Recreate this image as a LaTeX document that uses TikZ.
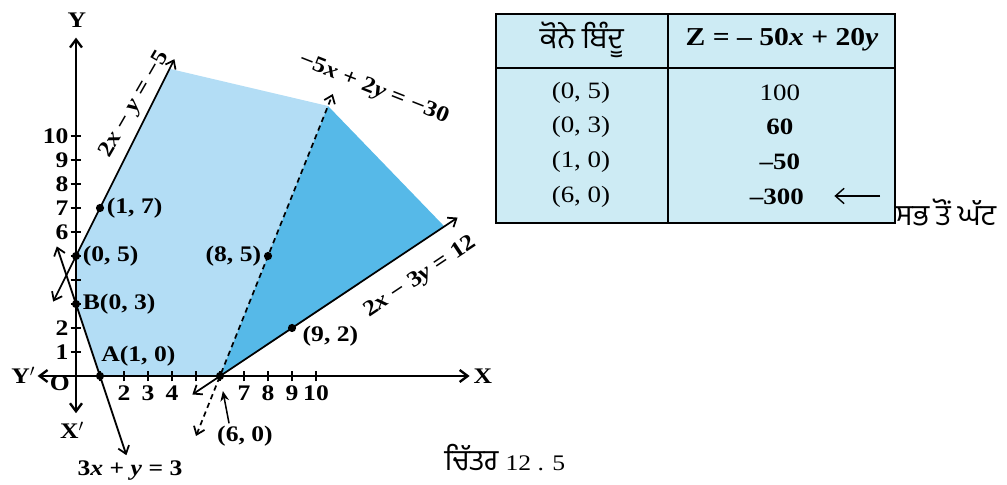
\documentclass[tikz,border=0pt]{standalone}
\usepackage{fontspec}
\setmainfont{Liberation Serif}[FakeStretch=1.15]
\newfontfamily\gurfont[Script=Gurmukhi]{Hind Jalandhar}
\usepackage{tikz}
\usetikzlibrary{arrows.meta, positioning, calc}
\definecolor{regionlight}{HTML}{B3DDF5}
\definecolor{regiondark}{HTML}{56B9E8}
\definecolor{tablefill}{HTML}{CDEBF4}
\newcommand{\vx}{\textit{x}}
\newcommand{\vy}{\textit{y}}

\begin{document}
\begin{tikzpicture}[x=0.72cm, y=0.72cm,
  barb/.tip={Straight Barb[length=2.2mm, width=3.4mm]},
  axis/.style={line width=2pt, {Straight Barb[length=2.4mm, width=3.6mm]}-{Straight Barb[length=2.4mm, width=3.6mm]}},
  cline/.style={line width=1.5pt, barb-barb},
  dline/.style={line width=1.5pt, dash pattern=on 1.6mm off 1.2mm, barb-barb},
  dot/.style={circle, fill=black, inner sep=0pt, minimum size=7pt},
  lbl/.style={font=\fontsize{19}{22}\selectfont\bfseries, inner sep=1pt},
  tbl/.style={font=\fontsize{20}{23}\selectfont, inner sep=1pt},
  tblb/.style={font=\fontsize{20}{23}\selectfont\bfseries, inner sep=1pt},
  gur/.style={font=\fontsize{25}{28}\selectfont\gurfont, inner sep=1pt}]
  \useasboundingbox (-3.1667,-4.5417) rectangle (38.7917,15.6667);

  % Regions
  \fill[regionlight] (0,3) -- (0,5) -- (3.9,12.8) -- (10.5,11.25) -- (6,0) -- (1,0) -- cycle;
  \fill[regiondark] (6,0) -- (10.5,11.25) -- (15.35,6.23) -- cycle;

  % Axes
  \draw[axis] (-1.6,0) -- (16.4,0);
  \draw[axis] (0,-1.55) -- (0,14.1);
  \foreach \i in {1,...,10} {
    \draw[line width=1.2pt] (\i,-0.22) -- (\i,0.22);
    \draw[line width=1.2pt] (-0.22,\i) -- (0.22,\i);
  }
  \foreach \i in {2,3,4,7,8,9,10}
    \node[lbl] (xt\i) at (\i,-0.7) {\i};
  \foreach \i in {1,2,6,7,8,9,10}
    \node[lbl, anchor=east] (yt\i) at (-0.26,\i) {\i};
  \node[lbl] (lY) at (0.04,14.83) {Y};
  \node[lbl] (lX) at (16.95,0) {X};
  \node[lbl] (lYp) at (-2.2,0.04) {Y$'$};
  \node[lbl] (lXp) at (-0.17,-2.25) {X$'$};
  \node[lbl] (lO) at (-0.67,-0.32) {O};

  % Droites
  \draw[cline] (-0.95,3.1) -- (4.1,13.2);
  \draw[cline] (-0.8,5.4) -- (2.1,-3.3);
  \draw[cline] (4.85,-0.77) -- (15.9,6.6);
  \draw[dline] (5,-2.5) -- (10.7,11.75);
  \node[lbl, rotate=60] (eqA) at (2.45,11.3) {2\vx\ − \vy\ = −5};
  \node[lbl, rotate=-21.5] (eqB) at (12.4,11.95) {−5\vx\ + 2\vy\ = −30};
  \node[lbl, rotate=33.7] (eqC) at (14.35,4.1) {2\vx\ − 3\vy\ = 12};
  \node[lbl] (eqD) at (2.25,-3.92) {3\vx\ + \vy\ = 3};

  % Sommets
  \node[dot] (p17) at (1,7) {};
  \node[dot] (p05) at (0,5) {};
  \node[dot] (p03) at (0,3) {};
  \node[dot] (p10) at (1,0) {};
  \node[dot] (p60) at (6,0) {};
  \node[dot] (p85) at (8,5) {};
  \node[dot] (p92) at (9,2) {};
  \node[lbl, right=1pt of p17] (l17) {(1, 7)};
  \node[lbl, right=1pt of p05] (l05) {(0, 5)};
  \node[lbl, right=1pt of p03] (l03) {B(0, 3)};
  \node[lbl] (l10) at (2.6,0.82) {A(1, 0)};
  \node[lbl, left=1pt of p85] (l85) {(8, 5)};
  \node[lbl] (l92) at (10.6,1.68) {(9, 2)};
  \node[lbl] (l60) at (7.04,-2.5) {(6, 0)};
  \draw[line width=1.3pt, -{Stealth[length=3mm, width=2.6mm]}, shorten >=3.3mm]
    ([shift={(0.55,0.05)}]l60.north west) -- (p60);

  % Tableau
  \draw[line width=2.2pt, fill=tablefill] (17.5,6.375) rectangle (34.125,15.083);
  \draw[line width=2.2pt] (24.667,6.375) -- (24.667,15.083);
  \draw[line width=2.2pt] (17.5,12.833) -- (34.125,12.833);
  \node[gur] (hP) at (21.08,14.0) {ਕੋਨੇ ਬਿੰਦੂ};
  \node[tblb, font=\fontsize{22}{25}\selectfont\bfseries] (hZ) at (29.42,14.0) {Z = – 50\vx\ + 20\vy};
  \node[tbl] (c1) at (21.04,11.79) {(0, 5)};
  \node[tbl] (c2) at (21.04,10.375) {(0, 3)};
  \node[tbl] (c3) at (21.04,8.917) {(1, 0)};
  \node[tbl] (c4) at (21.04,7.458) {(6, 0)};
  \node[tbl] (v1) at (29.33,11.79) {100};
  \node[tblb] (v2) at (29.33,10.375) {60};
  \node[tblb] (v3) at (29.33,8.917) {–50};
  \node[tblb] (v4) at (29.2,7.458) {–300};
  \coordinate (arrTail) at (33.5,7.5);
  \coordinate (arrTip) at (31.6,7.5);
  \draw[line width=1.2pt, -{Straight Barb[length=2.6mm, width=4.6mm]}] (arrTail) -- (arrTip);
  \node[gur] (least) at (36.25,6.83) {ਸਭ ਤੋਂ ਘੱਟ};

  % Legende
  \node[gur, inner sep=0pt, text depth=0pt] (cap) at (17.875,-3.4) {ਚਿੱਤਰ {\rmfamily\fontsize{19}{22}\selectfont 12 . 5}};
\end{tikzpicture}
\end{document}
